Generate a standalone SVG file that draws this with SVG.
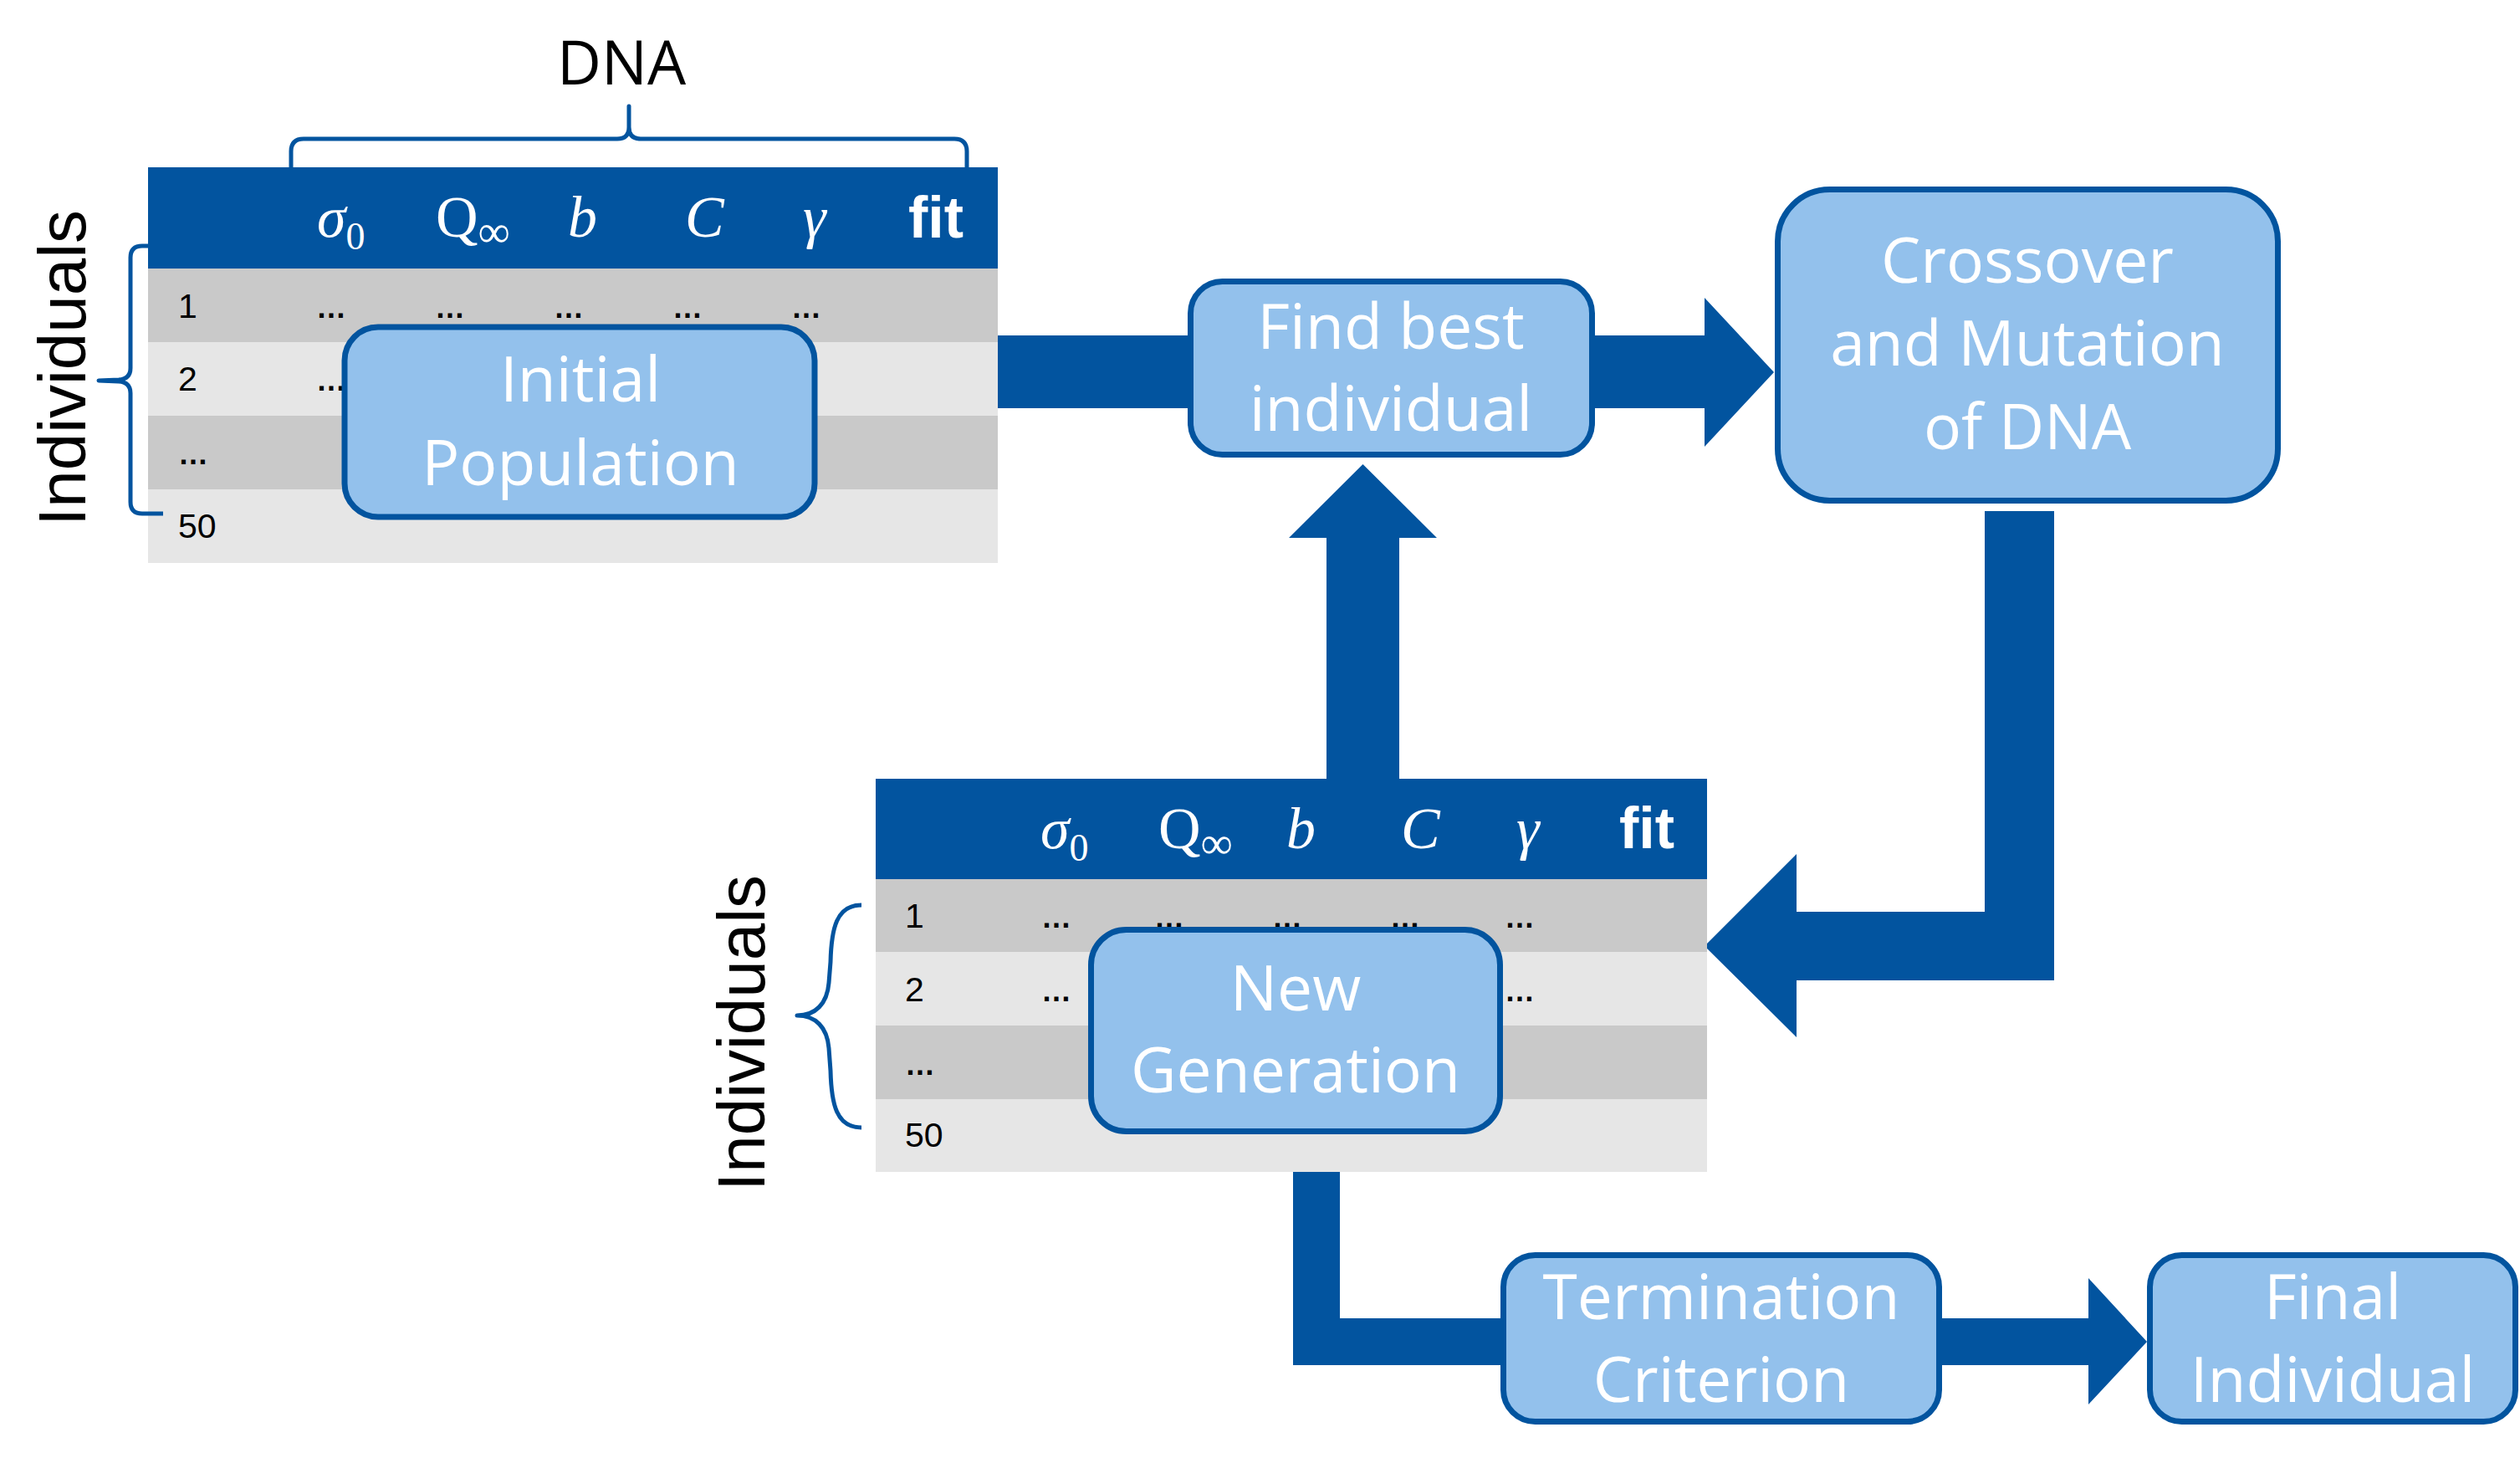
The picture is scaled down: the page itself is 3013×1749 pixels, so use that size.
<svg xmlns="http://www.w3.org/2000/svg" width="3013" height="1749" viewBox="0 0 3013 1749">
<style>
.hdr{fill:#02549F}
.r1{fill:#C9C9C9}
.r2{fill:#E6E6E6}
.box{fill:#93C1EC;stroke:#02549F;stroke-width:7}
.lbl{font-family:"Open Sans","Liberation Sans",sans-serif;font-size:75px;fill:#fff;text-anchor:middle}
.num{font-family:"Liberation Sans",Arial,sans-serif;font-size:41px;fill:#000}
.ell{font-family:"Liberation Sans",Arial,sans-serif;font-size:36px;fill:#000;font-weight:bold}
.m{font-family:"Liberation Serif","DejaVu Serif",serif;font-size:70px;fill:#fff;font-style:italic}
.up{font-style:normal}
.sub{font-size:46px;font-style:normal}
.inf{font-size:54px;font-style:normal}
.fit{font-family:"Liberation Sans",Arial,sans-serif;font-weight:bold;font-size:70px;fill:#fff}
.brace{fill:none;stroke:#02549F;stroke-width:5;stroke-linejoin:round}
.side{font-family:"Liberation Sans",Arial,sans-serif;font-size:80px;fill:#000;text-anchor:middle}
.conn{fill:#02549F}
</style>

<g id="connectors">
  <polygon class="conn" points="1193,401 2038,401 2038,356 2121,445 2038,534 2038,488 1193,488"/>
  <polygon class="conn" points="1586,931 1586,643 1541,643 1629.5,555 1718,643 1673,643 1673,931"/>
  <polygon class="conn" points="2373,611 2456,611 2456,1172 2148,1172 2148,1240 2038,1131 2148,1021 2148,1090 2373,1090"/>
  <polygon class="conn" points="1546,1401 1602,1401 1602,1576 1800,1576 1800,1632 1546,1632"/>
  <polygon class="conn" points="2318,1576 2497,1576 2497,1528 2567,1604 2497,1679 2497,1632 2318,1632"/>
</g>

<g id="table-initial">
  <rect class="hdr" x="177" y="200" width="1016" height="121"/>
  <rect class="r1" x="177" y="321" width="1016" height="88"/>
  <rect class="r2" x="177" y="409" width="1016" height="88"/>
  <rect class="r1" x="177" y="497" width="1016" height="88"/>
  <rect class="r2" x="177" y="585" width="1016" height="88"/>
  <text class="m" x="379" y="283">σ<tspan class="sub" dy="15">0</tspan></text>
  <text class="m" x="521" y="283"><tspan class="up">Q</tspan><tspan class="inf" dy="12">∞</tspan></text>
  <text class="m" x="679" y="283">b</text>
  <text class="m" x="819" y="283">C</text>
  <text class="m" x="960" y="283">γ</text>
  <text class="fit" x="1086" y="284">fit</text>
  <text class="num" x="213" y="380">1</text>
  <text class="num" x="213" y="467">2</text>
  <text class="ell" x="213" y="555">…</text>
  <text class="num" x="213" y="643">50</text>
  <text class="ell" x="378" y="380">…</text>
  <text class="ell" x="520" y="380">…</text>
  <text class="ell" x="662" y="380">…</text>
  <text class="ell" x="804" y="380">…</text>
  <text class="ell" x="946" y="380">…</text>
  <text class="ell" x="378" y="467">…</text>
  <text x="743" y="101" style="font-family:'Open Sans','Liberation Sans',sans-serif;font-size:73px;fill:#000;text-anchor:middle">DNA</text>
  <path class="brace" d="M348,200 L348,181 Q348,166 363,166 L738,166 Q752,166 752,152 L752,127 L752,152 Q752,166 766,166 L1141,166 Q1156,166 1156,181 L1156,200"/>
  <path class="brace" d="M177,294 L170,294 Q156,294 156,308 L156,440 Q156,453 142,454 L118,455 L142,456 Q156,457 156,470 L156,600 Q156,614 170,614 L195,614"/>
  <text class="side" transform="translate(102,440) rotate(-90)">Individuals</text>
</g>

<g id="node-initial">
  <rect class="box" x="412" y="391" width="562" height="227" rx="40"/>
  <text class="lbl" x="694" y="480">Initial</text>
  <text class="lbl" x="694" y="580">Population</text>
</g>

<g id="node-findbest">
  <rect class="box" x="1423.5" y="336.5" width="480" height="207" rx="38"/>
  <text class="lbl" x="1663" y="417">Find best</text>
  <text class="lbl" x="1663" y="515">individual</text>
</g>

<g id="node-crossover">
  <rect class="box" x="2125.5" y="226.5" width="598" height="372" rx="62"/>
  <text class="lbl" x="2424" y="338">Crossover</text>
  <text class="lbl" x="2424" y="437">and Mutation</text>
  <text class="lbl" x="2424" y="537">of DNA</text>
</g>

<g id="table-new">
  <rect class="hdr" x="1047" y="931" width="994" height="120"/>
  <rect class="r1" x="1047" y="1051" width="994" height="87"/>
  <rect class="r2" x="1047" y="1138" width="994" height="88"/>
  <rect class="r1" x="1047" y="1226" width="994" height="88"/>
  <rect class="r2" x="1047" y="1314" width="994" height="87"/>
  <text class="m" x="1244" y="1014">σ<tspan class="sub" dy="15">0</tspan></text>
  <text class="m" x="1385" y="1014"><tspan class="up">Q</tspan><tspan class="inf" dy="12">∞</tspan></text>
  <text class="m" x="1538" y="1014">b</text>
  <text class="m" x="1675" y="1014">C</text>
  <text class="m" x="1813" y="1014">γ</text>
  <text class="fit" x="1936" y="1014">fit</text>
  <text class="num" x="1082" y="1109">1</text>
  <text class="num" x="1082" y="1197">2</text>
  <text class="ell" x="1082" y="1285">…</text>
  <text class="num" x="1082" y="1371">50</text>
  <text class="ell" x="1245" y="1109">…</text>
  <text class="ell" x="1380" y="1109">…</text>
  <text class="ell" x="1521" y="1109">…</text>
  <text class="ell" x="1662" y="1109">…</text>
  <text class="ell" x="1799" y="1109">…</text>
  <text class="ell" x="1245" y="1197">…</text>
  <text class="ell" x="1799" y="1197">…</text>
  <path class="brace" d="M1030,1082 C1000,1082 994,1110 993,1150 L991,1175 C989,1200 975,1214 953,1214 C975,1214 989,1228 991,1253 L993,1280 C994,1320 1000,1348 1030,1348"/>
  <text class="side" transform="translate(914,1235) rotate(-90)">Individuals</text>
</g>

<g id="node-newgen">
  <rect class="box" x="1304.5" y="1111.5" width="489" height="241" rx="42"/>
  <text class="lbl" x="1549" y="1208">New</text>
  <text class="lbl" x="1549" y="1306">Generation</text>
</g>

<g id="node-termination">
  <rect class="box" x="1797.5" y="1500.5" width="521" height="199" rx="38"/>
  <text class="lbl" x="2058" y="1577">Termination</text>
  <text class="lbl" x="2058" y="1676">Criterion</text>
</g>

<g id="node-final">
  <rect class="box" x="2570.5" y="1500.5" width="437" height="199" rx="38"/>
  <text class="lbl" x="2789" y="1577">Final</text>
  <text class="lbl" x="2789" y="1676">Individual</text>
</g>
</svg>
